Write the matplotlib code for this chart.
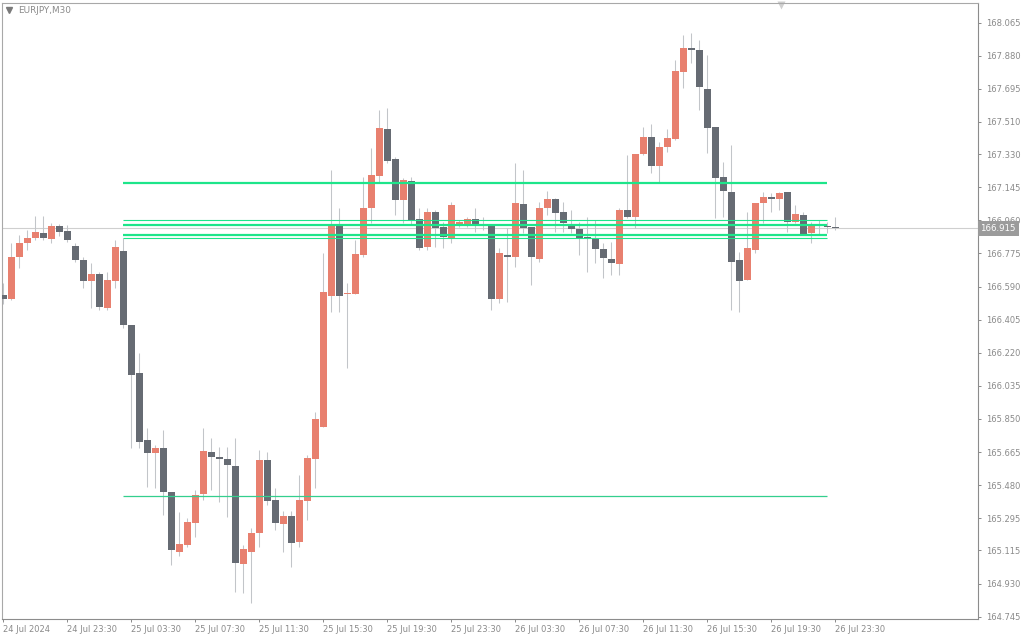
import matplotlib
matplotlib.use("Agg")
import numpy as np
import matplotlib.pyplot as plt

# EURJPY M30, 24 Jul 19:30 .. 26 Jul 23:30
opens = [166.543, 166.522, 166.754, 166.835, 166.860, 166.888, 166.858, 166.929, 166.901, 166.817,
         166.737, 166.623, 166.661, 166.470, 166.623, 166.791, 166.376, 166.107, 165.733, 165.662,
         165.688, 165.442, 165.108, 165.148, 165.271, 165.431, 165.664, 165.631, 165.625, 165.588,
         165.040, 165.108, 165.211, 165.621, 165.397, 165.262, 165.308, 165.164, 165.393, 165.625,
         165.807, 166.539, 166.929, 166.547, 166.550, 166.768, 167.028, 167.210, 167.471, 167.303,
         167.074, 167.182, 166.968, 166.813, 167.007, 166.925, 166.860, 166.938, 166.940, 166.968,
         166.935, 166.934, 166.522, 166.760, 166.757, 167.052, 166.923, 166.746, 167.028, 167.080,
         167.007, 166.940, 166.912, 166.861, 166.856, 166.800, 166.744, 166.716, 167.018, 166.981,
         167.331, 167.428, 167.264, 167.369, 167.417, 167.791, 167.917, 167.912, 167.695, 167.484,
         167.204, 167.119, 166.739, 166.629, 166.795, 167.059, 167.089, 167.080, 167.117, 166.953,
         166.989, 166.888, 166.938, 166.926, 166.922]
highs = [166.610, 166.832, 166.878, 166.906, 166.985, 166.985, 166.946, 166.940, 166.934, 166.834,
         166.757, 166.724, 166.673, 166.673, 166.851, 166.860, 166.376, 166.217, 165.798, 165.705,
         165.789, 165.442, 165.332, 165.295, 165.453, 165.798, 165.742, 165.695, 165.695, 165.742,
         165.146, 165.239, 165.677, 165.667, 165.463, 165.338, 165.338, 165.537, 165.649, 165.891,
         166.776, 167.242, 167.028, 166.609, 166.851, 167.204, 167.363, 167.577, 167.587, 167.316,
         167.195, 167.201, 167.028, 167.028, 167.018, 166.953, 167.065, 166.962, 166.977, 167.028,
         166.977, 166.934, 166.804, 166.916, 167.279, 167.242, 166.925, 167.065, 167.124, 167.084,
         167.065, 167.018, 166.953, 166.981, 166.962, 166.832, 166.841, 167.028, 167.326, 167.331,
         167.484, 167.497, 167.400, 167.469, 167.857, 167.996, 168.009, 167.968, 167.884, 167.484,
         167.288, 167.382, 166.785, 167.009, 167.056, 167.120, 167.112, 167.120, 167.117, 167.046,
         167.009, 166.953, 166.962, 166.953, 166.981]
lows = [166.493, 166.515, 166.694, 166.795, 166.851, 166.851, 166.834, 166.873, 166.841, 166.729,
        166.581, 166.469, 166.459, 166.459, 166.581, 166.357, 165.686, 165.686, 165.472, 165.463,
        165.314, 165.034, 165.084, 165.136, 165.192, 165.397, 165.453, 165.388, 165.304, 164.885,
        164.876, 164.820, 165.136, 165.369, 165.230, 165.108, 165.025, 165.136, 165.286, 165.463,
        165.807, 166.450, 166.450, 166.133, 166.548, 166.757, 166.944, 167.176, 167.279, 166.990,
        166.944, 166.934, 166.795, 166.795, 166.813, 166.804, 166.832, 166.923, 166.925, 166.897,
        166.906, 166.459, 166.497, 166.506, 166.701, 166.888, 166.599, 166.729, 166.990, 166.897,
        166.897, 166.888, 166.767, 166.673, 166.720, 166.637, 166.655, 166.655, 166.972, 166.916,
        167.326, 167.223, 167.176, 167.344, 167.409, 167.698, 167.838, 167.577, 167.335, 166.972,
        166.981, 166.459, 166.450, 166.627, 166.776, 166.944, 167.009, 167.018, 166.897, 166.944,
        166.878, 166.832, 166.878, 166.888, 166.906]
closes = [166.519, 166.754, 166.832, 166.860, 166.894, 166.860, 166.929, 166.897, 166.851, 166.739,
          166.623, 166.661, 166.474, 166.627, 166.811, 166.376, 166.098, 165.722, 165.662, 165.688,
          165.442, 165.118, 165.152, 165.274, 165.425, 165.671, 165.639, 165.629, 165.593, 165.047,
          165.122, 165.211, 165.621, 165.393, 165.271, 165.308, 165.159, 165.397, 165.630, 165.850,
          166.562, 166.934, 166.539, 166.556, 166.772, 167.031, 167.214, 167.478, 167.292, 167.074,
          167.186, 166.962, 166.808, 167.009, 166.919, 166.869, 167.046, 166.951, 166.968, 166.930,
          166.933, 166.522, 166.780, 166.758, 167.057, 166.919, 166.757, 167.029, 167.080, 167.003,
          166.944, 166.912, 166.860, 166.859, 166.800, 166.752, 166.724, 167.018, 166.981, 167.331,
          167.428, 167.264, 167.372, 167.422, 167.797, 167.922, 167.915, 167.707, 167.478, 167.199,
          167.124, 166.729, 166.623, 166.804, 167.056, 167.089, 167.081, 167.112, 166.953, 166.996,
          166.884, 166.938, 166.936, 166.924, 166.915]

x_labels = ["24 Jul 2024", "24 Jul 23:30", "25 Jul 03:30", "25 Jul 07:30", "25 Jul 11:30",
            "25 Jul 15:30", "25 Jul 19:30", "25 Jul 23:30", "26 Jul 03:30", "26 Jul 07:30",
            "26 Jul 11:30", "26 Jul 15:30", "26 Jul 19:30", "26 Jul 23:30"]
y_ticks = [168.065, 167.880, 167.695, 167.510, 167.330, 167.145, 166.960, 166.775, 166.590,
           166.405, 166.220, 166.035, 165.850, 165.665, 165.480, 165.295, 165.115, 164.930, 164.745]
y_labels = ["%.3f" % v for v in y_ticks]

# horizontal levels drawn from bar 15 to bar 103
levels_thick = [167.171, 166.936, 166.880]
levels_thin = [166.960, 166.859]
level_low = 165.420
last_price = 166.915

bull_col = "#e8806f"
bear_col = "#666b73"
wick_col = "#c2c5c9"
green = "#1de58a"
txt_col = "#8a8a8a"

fig = plt.figure(figsize=(10.24, 6.4), dpi=100)
ax = fig.add_axes([2 / 1024, 21 / 640, 976 / 1024, 616 / 640])

o = np.array(opens)
h = np.array(highs)
l = np.array(lows)
c = np.array(closes)
x = np.arange(len(o))
up = c >= o

ax.vlines(x, l, h, color=wick_col, lw=0.75, zorder=2)
body_lo = np.minimum(o, c)
body_h = np.maximum(np.abs(c - o), 0.006)
ax.bar(x[up], body_h[up], bottom=body_lo[up], width=0.82, color=bull_col, zorder=3)
ax.bar(x[~up], body_h[~up], bottom=body_lo[~up], width=0.82, color=bear_col, zorder=3)

ax.axhline(last_price, color="#cfcfcf", lw=0.8, zorder=1)
ax.hlines(levels_thick, 15, 103, color=green, lw=1.6, zorder=4)
ax.hlines(levels_thin, 15, 103, color=green, lw=0.8, zorder=4)
ax.hlines([level_low], 15, 103, color="#34cf8e", lw=0.9, zorder=4)

ax.set_xlim(-0.16, 121.84)
ax.set_ylim(164.732, 168.175)

ax.set_xticks(np.arange(0, 105, 8))
ax.set_xticklabels(x_labels, ha="left")
ax.yaxis.tick_right()
ax.set_yticks(y_ticks)
ax.set_yticklabels(y_labels)
ax.tick_params(axis="both", colors="#8a8a8a", labelcolor=txt_col, labelsize=6, length=2.5, width=0.7)
ax.tick_params(axis="x", pad=2)
ax.tick_params(axis="y", pad=3)
for lab in ax.get_xticklabels():
    lab.set_x(lab.get_position()[0])

for s in ["left", "top"]:
    ax.spines[s].set_color("#a8a8a8")
    ax.spines[s].set_linewidth(0.8)
for s in ["right", "bottom"]:
    ax.spines[s].set_color("#8c8c8c")
    ax.spines[s].set_linewidth(0.8)

# current price box
ax.text(1.0025, last_price, "166.915", transform=ax.get_yaxis_transform(), ha="left", va="center",
        fontsize=6.2, color="white", clip_on=False, zorder=10,
        bbox=dict(boxstyle="square,pad=0.3", fc="#9b9b9b", ec="none"))

# title and markers
fig.text(18 / 1024, 1 - 10.5 / 640, "EURJPY,M30", fontsize=6.4, color=txt_col, va="center", ha="left")
ax.plot([0.0068], [0.9885], marker="v", ms=4, color="#7a7a7a", transform=ax.transAxes, clip_on=False)
ax.plot([0.798], [0.997], marker="v", ms=6, color="#d0d0d0", mec="none", transform=ax.transAxes,
        clip_on=False)

fig.savefig("out.png", dpi=100)
